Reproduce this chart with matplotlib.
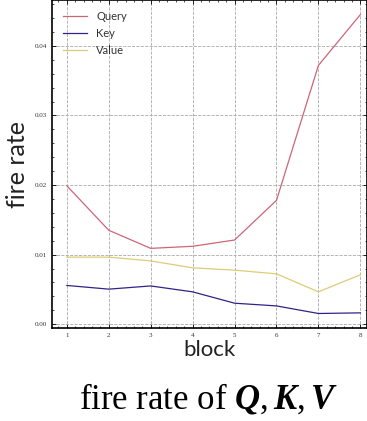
import numpy as np
import matplotlib
matplotlib.use('Agg')
import matplotlib.pyplot as plt
from matplotlib.ticker import AutoMinorLocator, MultipleLocator

blocks = [1, 2, 3, 4, 5, 6, 7, 8]
query = [0.0199, 0.0135, 0.0109, 0.0112, 0.0121, 0.0178, 0.0372, 0.0445]
key = [0.00557, 0.00504, 0.00550, 0.00465, 0.00302, 0.00263, 0.00154, 0.00163]
value = [0.00964, 0.00964, 0.0091, 0.0081, 0.00777, 0.00724, 0.00465, 0.0071]

plt.rcParams['mathtext.fontset'] = 'custom'
plt.rcParams['mathtext.rm'] = 'Liberation Serif'
plt.rcParams['mathtext.it'] = 'Liberation Serif:italic:bold'

fig = plt.figure(figsize=(3.67, 4.21), dpi=100)
ax = fig.add_axes([0.141, 0.22, 0.858, 0.78])

ax.plot(blocks, query, color='#CC6677', lw=0.9, label='Query')
ax.plot(blocks, key, color='#332288', lw=0.9, label='Key')
ax.plot(blocks, value, color='#DDCC77', lw=0.9, label='Value')

ax.set_xlim(0.64, 8.15)
ax.set_ylim(-0.0006, 0.0466)
ax.xaxis.set_major_locator(MultipleLocator(1))
ax.yaxis.set_major_locator(MultipleLocator(0.01))
ax.xaxis.set_minor_locator(AutoMinorLocator(5))
ax.yaxis.set_minor_locator(AutoMinorLocator(5))
ax.yaxis.set_major_formatter(matplotlib.ticker.FormatStrFormatter('%.2f'))
ax.tick_params(which='both', direction='in', top=True, right=True,
               labelsize=5, labelcolor='#333333', labelfontfamily='Liberation Serif')
ax.tick_params(which='major', length=3, width=0.6)
ax.tick_params(which='minor', length=1.5, width=0.5)
for s in ax.spines.values():
    s.set_linewidth(1.2)
ax.grid(True, which='major', ls='--', lw=0.6, color='#aaaaaa')

ax.set_xlabel('block', fontsize=16, family='Lato', labelpad=1, color='#222222')
ax.set_ylabel('fire rate', fontsize=18, family='Lato', labelpad=4, color='#222222')

leg = ax.legend(loc='upper left', frameon=False, handlelength=2.2,
                prop={'family': 'Lato', 'size': 8},
                borderaxespad=0.6, labelspacing=0.55)
for t in leg.get_texts():
    t.set_color('#333333')

fig.text(0.568, 0.03, r'fire rate of $Q,K,V$', ha='center', va='baseline',
         fontsize=25, family='Liberation Serif')

fig.savefig('out.png', dpi=100)
